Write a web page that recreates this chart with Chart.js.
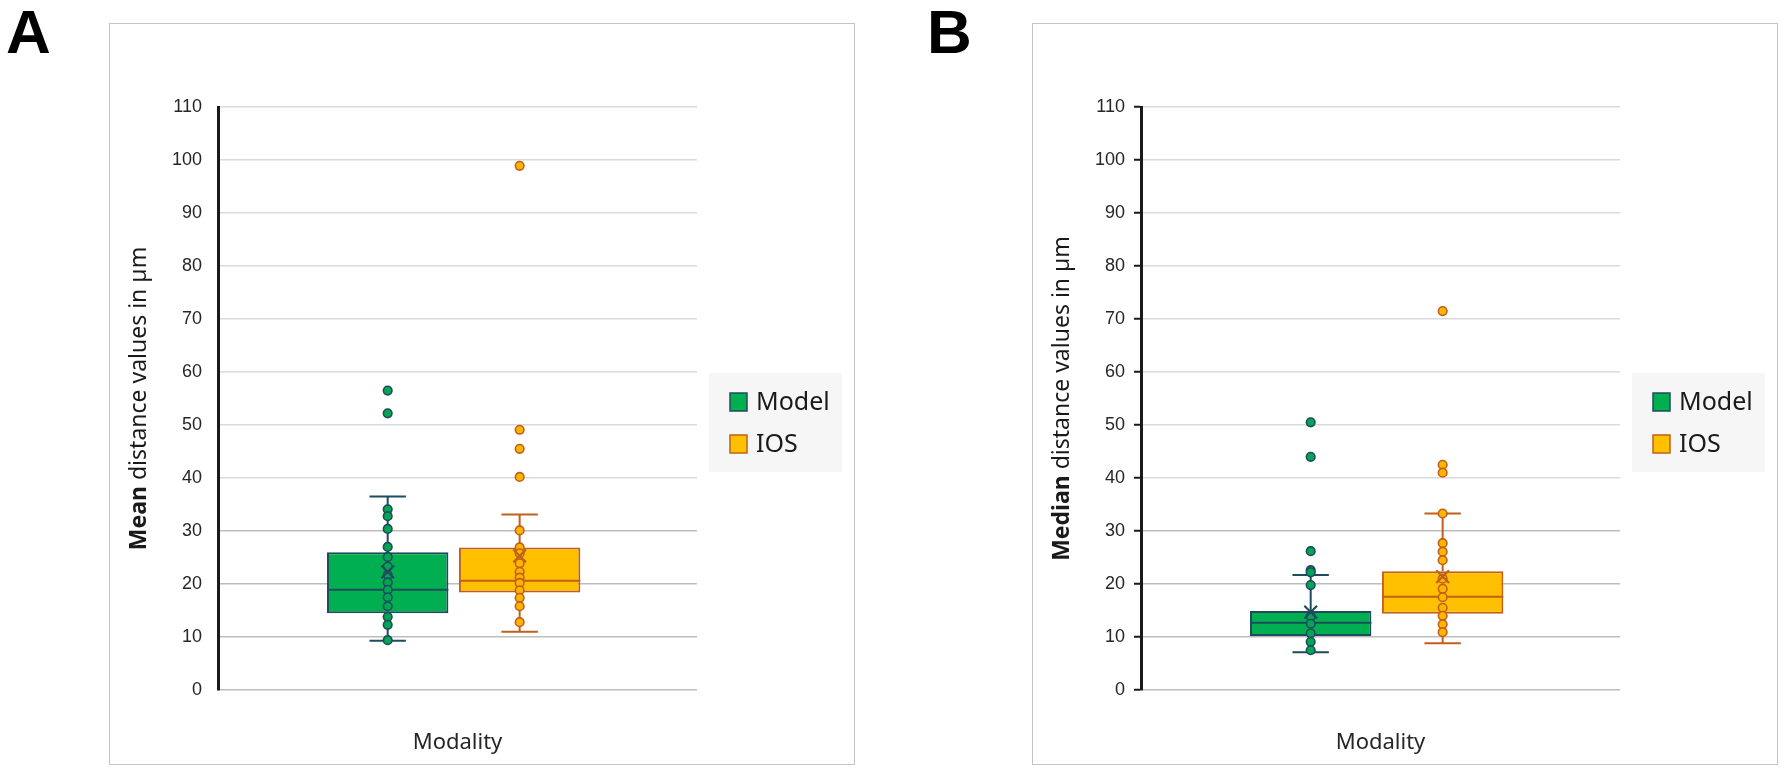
<!DOCTYPE html>
<html>
<head>
<meta charset="utf-8">
<script src="https://cdn.jsdelivr.net/npm/chart.js@4.4.1/dist/chart.umd.min.js"></script>
<style>
  html, body { margin: 0; padding: 0; background: #fff; }
  body { width: 1784px; height: 774px; position: relative; overflow: hidden; }
  .letter { position: absolute; top: 1px; font: bold 62px "Liberation Sans", Arial, sans-serif; color: #000; line-height: 62px; }
  .panel { position: absolute; top: 23px; width: 744px; height: 740px; border: 1px solid #c4c4c4; }
  .panel canvas { display: block; }
</style>
</head>
<body>
<div class="letter" style="left:6px">A</div>
<div class="letter" style="left:927px">B</div>
<div class="panel" style="left:109px"><canvas id="chartA" width="744" height="740"></canvas></div>
<div class="panel" style="left:1032px"><canvas id="chartB" width="744" height="740"></canvas></div>
<script>
// ---- data ----
const categories = ["Modality"];
const seriesNames = ["Model", "IOS"];
const yMin = 0, yMax = 110, yStep = 10;

// A: mean distance values (µm). stats = [whisker low, Q1, median, Q3, whisker high]
const meanModelStats = [9.3, 14.5, 18.9, 26.0, 36.5];
const meanModelMean = 22.3;
const meanModelPoints = [56.5, 52.2, 34.1, 32.8, 30.4, 27.0, 25.1, 23.3, 21.7, 20.3, 18.9, 17.5, 15.8, 13.8, 12.3, 9.4];
const meanIosStats = [11.0, 18.4, 20.6, 26.9, 33.1];
const meanIosMean = 25.3;
const meanIosPoints = [98.9, 49.1, 45.5, 40.2, 30.1, 26.9, 25.8, 23.9, 22.3, 21.2, 20.2, 18.8, 17.4, 15.8, 12.8];

// B: median distance values (µm)
const medianModelStats = [7.1, 10.2, 12.7, 14.9, 21.7];
const medianModelMean = 14.7;
const medianModelPoints = [50.5, 44.0, 26.2, 22.6, 22.2, 19.8, 13.9, 12.5, 10.7, 9.1, 7.5];
const medianIosStats = [8.8, 14.4, 17.6, 22.4, 33.3];
const medianIosMean = 21.4;
const medianIosPoints = [71.5, 42.5, 41.0, 33.3, 27.7, 26.1, 24.5, 21.0, 19.1, 17.5, 15.5, 14.0, 12.4, 10.9];

// ---- styling ----
const fills = ["#00b050", "#ffc000"];
const pointFills = ["#00a651", "#ffb400"];
const edges = ["#1f4b5f", "#c0601a"];
const GROUP_PCT = 0.551;   // share of the category taken by the two boxes
const BAR_PCT = 0.92;      // box width inside its slot
const halfBox = GROUP_PCT * BAR_PCT / 4;
const halfCap = halfBox * 0.3;
const sans = '"Noto Sans", "Open Sans", sans-serif';

// slot centre of series i inside the single category (category spans -0.5..0.5)
function slotCenter(i) {
  return (i - 0.5) * GROUP_PCT / 2 - 0.008;
}

// draws the rotated y title (first word bold) and the grey-backed legend
const boxPlotExtras = {
  id: "boxPlotExtras",
  afterDraw(chart, args, opts) {
    const ctx = chart.ctx;
    const area = chart.chartArea;

    ctx.save();
    ctx.translate(opts.titleX, (area.top + area.bottom) / 2);
    ctx.rotate(-Math.PI / 2);
    ctx.textBaseline = "middle";
    ctx.fillStyle = "#1a1a1a";
    ctx.font = "bold 23px " + sans;
    const w1 = ctx.measureText(opts.titleBold).width;
    ctx.font = "23px " + sans;
    const w2 = ctx.measureText(opts.titleRest).width;
    const x0 = -(w1 + w2) / 2;
    ctx.font = "bold 23px " + sans;
    ctx.fillText(opts.titleBold, x0, 0);
    ctx.font = "23px " + sans;
    ctx.fillText(opts.titleRest, x0 + w1, 0);
    ctx.restore();

    // legend
    const bgLeft = area.right + 12;
    const bgTop = area.top + 266;
    ctx.save();
    ctx.fillStyle = "#f6f6f6";
    ctx.fillRect(bgLeft, bgTop, 133, 99);
    const bars = chart.data.datasets.filter(d => d.type === "bar");
    bars.forEach((d, i) => {
      const cy = bgTop + 29 + i * 42;
      ctx.fillStyle = d.backgroundColor;
      ctx.fillRect(bgLeft + 21, cy - 9, 17, 18);
      ctx.strokeStyle = d.borderColor;
      ctx.lineWidth = 1.5;
      ctx.strokeRect(bgLeft + 21, cy - 9, 17, 18);
      ctx.fillStyle = "#1a1a1a";
      ctx.font = "25px " + sans;
      ctx.textBaseline = "middle";
      ctx.fillText(d.label, bgLeft + 47, cy + 1);
    });
    ctx.restore();
  }
};

function buildDatasets(statsList, meanList, pointsList) {
  const sets = [];
  statsList.forEach((s, i) => {
    const c = slotCenter(i);
    const [lo, q1, med, q3, hi] = s;
    sets.push({
      type: "bar", label: seriesNames[i], xAxisID: "xSlot", grouped: false,
      data: [{x: c, y: [q1, q3]}],
      backgroundColor: fills[i], borderColor: edges[i], borderWidth: 2,
      borderSkipped: false, categoryPercentage: 1, barPercentage: BAR_PCT,
      order: 10
    });
    sets.push({
      type: "scatter", xAxisID: "xSlot", showLine: true, spanGaps: false, pointRadius: 0,
      borderColor: edges[i], borderWidth: 2, order: 9,
      data: [
        {x: c, y: lo}, {x: c, y: q1}, {x: c, y: null},
        {x: c, y: q3}, {x: c, y: hi}, {x: c, y: null},
        {x: c - halfCap, y: hi}, {x: c + halfCap, y: hi}, {x: c, y: null},
        {x: c - halfCap, y: lo}, {x: c + halfCap, y: lo}
      ]
    });
    sets.push({
      type: "scatter", xAxisID: "xSlot", showLine: true, pointRadius: 0,
      borderColor: edges[i], borderWidth: 2, order: 8,
      data: [{x: c - halfBox, y: med}, {x: c + halfBox, y: med}]
    });
    sets.push({
      type: "scatter", xAxisID: "xSlot", pointRadius: 4.3, pointBorderWidth: 1.6,
      pointBackgroundColor: pointFills[i], pointBorderColor: edges[i], order: 3,
      data: pointsList[i].map(v => ({x: c, y: v}))
    });
    sets.push({
      type: "scatter", xAxisID: "xSlot", pointStyle: "crossRot", pointRadius: 9, pointBorderWidth: 2.2,
      pointBorderColor: edges[i], order: 2,
      data: [{x: c, y: meanList[i]}]
    });
  });
  return sets;
}

function makeChart(canvasId, statsList, meanList, pointsList, titleBold, tickMarks) {
  return new Chart(document.getElementById(canvasId), {
    type: "bar",
    data: { labels: categories, datasets: buildDatasets(statsList, meanList, pointsList) },
    plugins: [boxPlotExtras],
    options: {
      responsive: false,
      animation: false,
      layout: { padding: { top: 83, right: 157, bottom: 0, left: 0 } },
      plugins: {
        legend: { display: false },
        tooltip: { enabled: false },
        boxPlotExtras: { titleBold: titleBold, titleRest: " distance values in µm", titleX: 29 }
      },
      scales: {
        x: {
          type: "category",
          offset: true,
          grid: { display: false },
          border: { display: false },
          ticks: { font: { family: sans, size: 22 }, color: "#262626", padding: 32 },
          afterFit(scale) { scale.height = 74; }
        },
        // hidden axis that places the two boxes side by side within the category
        xSlot: { type: "linear", display: false, offset: false, min: -0.5, max: 0.5, ticks: { count: 2 } },
        y: {
          min: yMin, max: yMax,
          ticks: { stepSize: yStep, font: { family: '"Liberation Sans", Arial, sans-serif', size: 18 }, color: "#262626", padding: 9 },
          grid: {
            color: c => (c.tick && c.tick.value <= 30 ? "#bdbdbd" : "#dadada"),
            lineWidth: 1.5,
            tickLength: 7,
            tickWidth: 2,
            tickColor: tickMarks ? "#1a1a1a" : "rgba(0,0,0,0)"
          },
          border: { color: "#1a1a1a", width: 3 },
          afterFit(scale) { scale.width = 108; }
        }
      }
    }
  });
}

makeChart("chartA", [meanModelStats, meanIosStats], [meanModelMean, meanIosMean],
  [meanModelPoints, meanIosPoints], "Mean", false);
makeChart("chartB", [medianModelStats, medianIosStats], [medianModelMean, medianIosMean],
  [medianModelPoints, medianIosPoints], "Median", true);
</script>
</body>
</html>
